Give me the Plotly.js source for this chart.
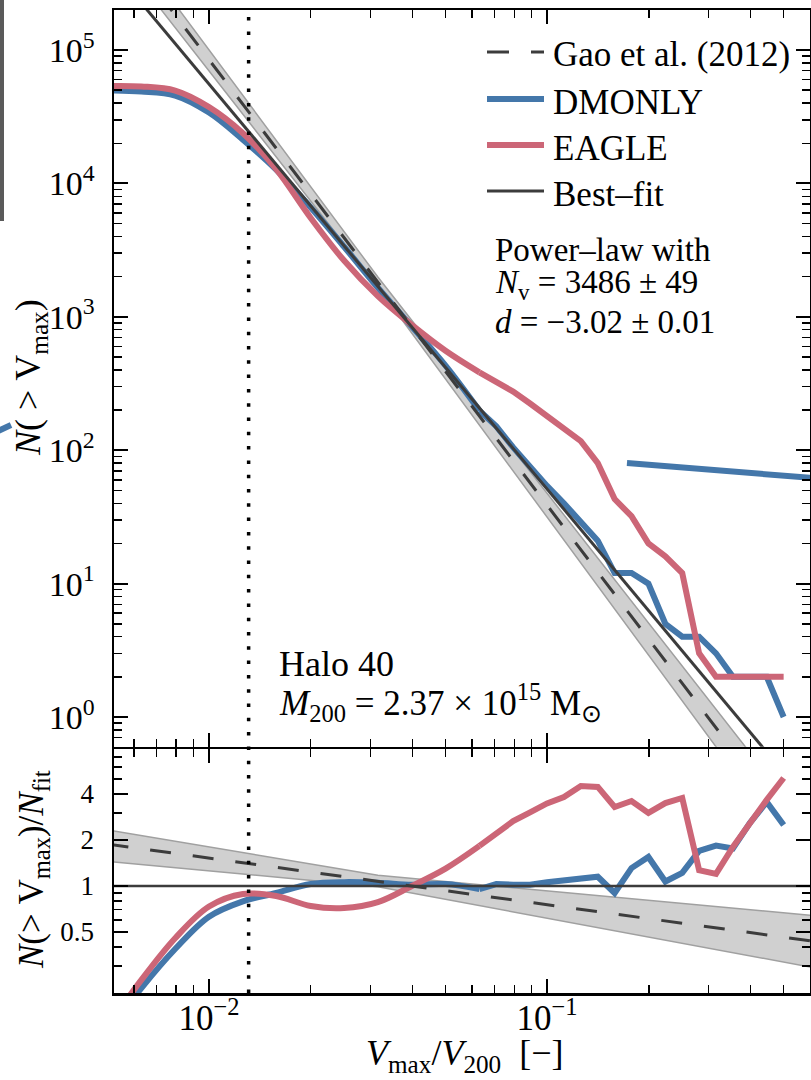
<!DOCTYPE html>
<html><head><meta charset="utf-8">
<script src="https://cdn.plot.ly/plotly-3.0.1.min.js"></script>
<style>html,body{margin:0;padding:0;background:#fff;} #chart{width:811px;height:1080px;}</style>
</head><body><div id="chart"></div>
<script>
// ---------- data ----------
const vmaxBins = [0.00501, 0.00631, 0.00794, 0.0100, 0.0126, 0.0158, 0.0200, 0.0251, 0.0316, 0.0398,
                  0.0501, 0.0631, 0.0708, 0.0794, 0.0891, 0.1000, 0.1122, 0.1259, 0.1413, 0.1585,
                  0.1778, 0.1995, 0.2239, 0.2512, 0.2818, 0.3162, 0.3548, 0.3981, 0.4467, 0.5012];
const dmonlyN = [49800, 48900, 45600, 34000, 21300, 12700, 6600, 3350, 1650, 845,
                 431, 198, 151, 105, 74, 54, 40, 29, 21, 12,
                 12, 10, 5, 4, 4, 3, 2, 2, 2, 1];
const eagleN  = [53700, 53300, 49700, 37400, 23800, 12800, 5510, 2640, 1430, 869,
                 556, 383, 326, 275, 224, 182, 145, 117, 80, 43,
                 32, 20, 16, 12, 3, 2, 2, 2, 2, 2];
const dmonlyRatio = [0.111, 0.215, 0.387, 0.630, 0.794, 0.900, 1.03, 1.06, 1.05, 1.02,
                     1.03, 0.955, 1.03, 1.02, 1.02, 1.06, 1.09, 1.13, 1.15, 0.90,
                     1.31, 1.55, 1.07, 1.22, 1.70, 1.84, 1.76, 2.58, 3.55, 2.51];
const eagleRatio  = [0.120, 0.243, 0.455, 0.734, 0.887, 0.861, 0.740, 0.718, 0.785, 1.00,
                     1.30, 1.83, 2.20, 2.66, 3.03, 3.47, 3.82, 4.51, 4.45, 3.29,
                     3.60, 3.01, 3.49, 3.77, 1.27, 1.20, 1.80, 2.58, 3.66, 5.09];
const bestFitX = [0.00501, 0.631];
const bestFitN = [453000, 0.191];
const bestFitRatio = [1, 1];
const gaoX = [0.00501, 0.0316, 0.631];
const gaoN = [851000, 1815, 0.0826];
const gaoNLow = [656000, 1671, 0.0553];
const gaoNHigh = [1057000, 1986, 0.122];
const gaoRatio = [1.88, 1.074, 0.431];
const gaoRatioLow = [1.45, 0.989, 0.289];
const gaoRatioHigh = [2.33, 1.175, 0.638];
const resolutionLimit = 0.0131;
const strayX = [0.1724, 0.604];   // line leaking in from a neighbouring panel
const strayY = [80.2, 62.0];
const legendLabels = ['Gao et al. (2012)', 'DMONLY', 'EAGLE', 'Best\u2013fit'];

// tick values / labels
const xMajor = [0.01, 0.1];
const xMajorText = ['10<sup>\u22122</sup>', '10<sup>\u22121</sup>'];
const xMinor = [0.006, 0.007, 0.008, 0.009, 0.02, 0.03, 0.04, 0.05, 0.06, 0.07, 0.08, 0.09, 0.2, 0.3, 0.4, 0.5];
const yMajor = [1, 10, 100, 1000, 10000, 100000];
const yMajorText = ['10<sup>0</sup>', '10<sup>1</sup>', '10<sup>2</sup>', '10<sup>3</sup>', '10<sup>4</sup>', '10<sup>5</sup>'];
const yMinor = [0.6, 0.7, 0.8, 0.9, 2, 3, 4, 5, 6, 7, 8, 9, 20, 30, 40, 50, 60, 70, 80, 90,
                200, 300, 400, 500, 600, 700, 800, 900, 2000, 3000, 4000, 5000, 6000, 7000, 8000, 9000,
                20000, 30000, 40000, 50000, 60000, 70000, 80000, 90000];
const y2Major = [0.5, 1, 2, 4, 8];
const y2MajorText = ['0.5', '1', '2', '4', ''];
const y2Minor = [0.3, 0.4, 0.6, 0.7, 0.8, 0.9, 3, 5, 6, 7];

// ---------- styles ----------
const FONT = '"Liberation Serif", "Times New Roman", serif';
const BLUE = '#4477AA', RED = '#CC6677', DARK = '#3c3c3c';
const BAND = 'rgba(150,150,150,0.45)', BANDEDGE = '#a0a0a0';
const GAODASH = '21px,22px';
const SMOOTH_UNTIL = 11; // smooth (spline) part of the measured curves, kinked part after

function band(x, lo, hi, xa, ya) {
  return {x: x.concat(x.slice().reverse()), y: hi.concat(lo.slice().reverse()),
    xaxis: xa, yaxis: ya, mode: 'lines', fill: 'toself', fillcolor: BAND,
    line: {color: BANDEDGE, width: 1.5}, showlegend: false, hoverinfo: 'skip'};
}
function curve(x, y, xa, ya, color) {
  const k = SMOOTH_UNTIL;
  return [
    {x: x.slice(0, k + 1), y: y.slice(0, k + 1), xaxis: xa, yaxis: ya, mode: 'lines', showlegend: false,
     line: {color: color, width: 6, shape: 'spline', smoothing: 1}},
    {x: x.slice(k), y: y.slice(k), xaxis: xa, yaxis: ya, mode: 'lines', showlegend: false,
     line: {color: color, width: 6, shape: 'linear'}}
  ];
}
function simple(x, y, xa, ya, color, width, dash) {
  return {x: x, y: y, xaxis: xa, yaxis: ya, mode: 'lines', showlegend: false,
          line: {color: color, width: width, dash: dash || 'solid'}};
}

const traces = [].concat(
  [band(gaoX, gaoNLow, gaoNHigh, 'x2', 'y')],
  curve(vmaxBins, dmonlyN, 'x2', 'y', BLUE),
  curve(vmaxBins, eagleN, 'x2', 'y', RED),
  [simple(bestFitX, bestFitN, 'x2', 'y', DARK, 3),
   simple(gaoX, gaoN, 'x2', 'y', DARK, 3, GAODASH),
   simple(strayX, strayY, 'x2', 'y', BLUE, 6),
   band(gaoX, gaoRatioLow, gaoRatioHigh, 'x', 'y2')],
  curve(vmaxBins, dmonlyRatio, 'x', 'y2', BLUE),
  curve(vmaxBins, eagleRatio, 'x', 'y2', RED),
  [simple(bestFitX, bestFitRatio, 'x', 'y2', DARK, 2.5),
   simple(gaoX, gaoRatio, 'x', 'y2', DARK, 3, GAODASH)]
);

function axis(extra, minorVals) {
  return Object.assign({
    type: 'log', showline: true, linecolor: '#000', linewidth: 2.5, mirror: 'allticks',
    ticks: 'inside', ticklen: 14, tickwidth: 2, tickcolor: '#000', showgrid: false, zeroline: false,
    tickmode: 'array', fixedrange: true,
    minor: {ticks: 'inside', ticklen: 8, tickwidth: 1.5, tickcolor: '#000', tickmode: 'array',
            tickvals: minorVals, showgrid: false}
  }, extra);
}

const PX = p => (p - 114) / 696;
const PY = p => (993 - p) / 983;
// the two panels share one 2.5px spine at page y = 748
const TOP_BOTTOM = PY(746.75), BOTTOM_TOP = PY(749.25);

function note(text, x, y, size, extra) {
  return Object.assign({text: text, xref: 'paper', yref: 'paper', x: PX(x), y: PY(y),
    xanchor: 'left', yanchor: 'middle', showarrow: false,
    font: {family: FONT, size: size, color: '#000'}}, extra || {});
}

// hand-placed legend (line samples + labels)
const legendStyles = [
  {color: DARK, width: 3, dash: '22px,22px'},
  {color: BLUE, width: 6, dash: 'solid'},
  {color: RED, width: 6, dash: 'solid'},
  {color: DARK, width: 3, dash: 'solid'}
];
const legendRowY = [52, 99, 145, 191];
const legendShapes = legendLabels.map((_, i) => ({type: 'line', xref: 'paper', yref: 'paper',
  x0: PX(487), x1: PX(544), y0: PY(legendRowY[i]), y1: PY(legendRowY[i]), line: legendStyles[i]}));
const legendNotes = legendLabels.map((t, i) => note(t, 551, legendRowY[i] + 3, 35));

const TH = '\u2005';
const layout = {
  width: 811, height: 1080,
  margin: {l: 114, r: 1, t: 10, b: 87},
  paper_bgcolor: '#fff', plot_bgcolor: '#fff',
  font: {family: FONT, color: '#000'},
  showlegend: false,
  xaxis: axis({domain: [0, 1], anchor: 'y2', range: [-2.281, -0.222],
               tickvals: xMajor, ticktext: xMajorText, ticklabelstandoff: -8,
               tickfont: {family: FONT, size: 35, color: '#000'}}, xMinor),
  xaxis2: axis({domain: [0, 1], anchor: 'y', matches: 'x', range: [-2.281, -0.222],
                tickvals: xMajor, ticktext: ['', ''], showticklabels: false}, xMinor),
  yaxis: axis({domain: [TOP_BOTTOM, 1], anchor: 'x2', range: [-0.223, 5.300],
               tickvals: yMajor, ticktext: yMajorText, ticklabelstandoff: 10,
               tickfont: {family: FONT, size: 34, color: '#000'}}, yMinor),
  yaxis2: axis({domain: [0, BOTTOM_TOP], anchor: 'x', range: [-0.700, 0.895],
                tickvals: y2Major, ticktext: y2MajorText, ticklabelstandoff: 12,
                tickfont: {family: FONT, size: 27, color: '#000'}}, y2Minor),
  shapes: [
    {type: 'line', xref: 'x', yref: 'paper', x0: resolutionLimit, x1: resolutionLimit, y0: 0, y1: 1,
     line: {color: '#000', width: 3.5, dash: '3.5px,10.8px'}},
    {type: 'rect', xref: 'paper', yref: 'paper', x0: PX(0), x1: PX(4), y0: PY(221), y1: PY(-5),
     fillcolor: '#5a5a5a', line: {width: 0}},
    {type: 'line', xref: 'paper', yref: 'paper', x0: PX(-2), y0: PY(431), x1: PX(11), y1: PY(425),
     line: {color: BLUE, width: 6}}
  ].concat(legendShapes),
  annotations: [
    note('Power\u2013law with', 493, 250, 33),
    note('<i>N</i><sub>v</sub> = 3486 \u00b1 49', 493, 284, 33),
    note('<i>d</i> = \u22123.02 \u00b1 0.01', 493, 322, 33),
    note('Halo 40', 277, 664, 36),
    note('<i>M</i><sub>200</sub>' + TH + '=' + TH + '2.37' + TH + '\u00d7' + TH + '10<sup>15</sup>' + TH + 'M<sub>\u2299</sub>', 277, 702, 35),
    note('<i>N</i>(' + TH + '&gt;' + TH + 'V<sub>max</sub>)', 30, 378, 36, {xanchor: 'center', textangle: -90}),
    note('<i>N</i>(&gt;' + TH + 'V<sub>max</sub>)/<i>N</i><sub>fit</sub>', 33, 870, 35, {xanchor: 'center', textangle: -90}),
    note('<i>V</i><sub>max</sub>/<i>V</i><sub>200</sub>\u2002[\u2212]', 464, 1055, 36, {xanchor: 'center'})
  ].concat(legendNotes)
};

Plotly.newPlot('chart', traces, layout, {displayModeBar: false, staticPlot: true});
</script>
</body></html>
